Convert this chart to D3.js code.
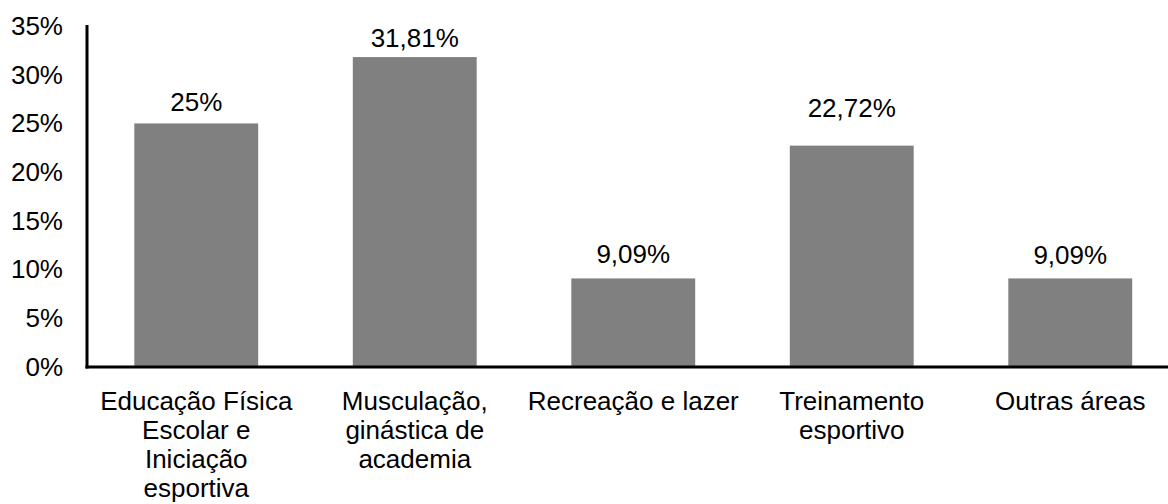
<!DOCTYPE html>
<html>
<head>
<meta charset="utf-8">
<script src="https://cdn.jsdelivr.net/npm/d3@7"></script>
<style>
  body { margin: 0; background: #fff; }
  text { font-family: "Liberation Sans", Arial, sans-serif; fill: #000; }
</style>
</head>
<body>
<svg id="chart" width="1168" height="504"></svg>
<script>
const categories = ["edu", "musc", "rec", "trein", "outras"];
const categoryLines = [
  ["Educação Física", "Escolar e", "Iniciação", "esportiva"],
  ["Musculação,", "ginástica de", "academia"],
  ["Recreação e lazer"],
  ["Treinamento", "esportivo"],
  ["Outras áreas"]
];
const values = [25, 31.81, 9.09, 22.72, 9.09];
const valueLabels = ["25%", "31,81%", "9,09%", "22,72%", "9,09%"];
const yTicks = [0, 5, 10, 15, 20, 25, 30, 35];

// gap between bar top and label baseline (labels were placed by hand in the original)
const labelGap = [12, 10, 15, 29, 14];

const svg = d3.select("#chart");

const x = d3.scaleBand()
  .domain(categories)
  .range([87, 1179.5])
  .paddingInner(0.433)
  .paddingOuter(0.2165);

const y = d3.scaleLinear()
  .domain([0, 35])
  .range([367, 26]);

// bars
svg.append("g")
  .selectAll("rect")
  .data(values)
  .join("rect")
  .attr("x", (d, i) => x(categories[i]))
  .attr("y", d => y(d))
  .attr("width", x.bandwidth())
  .attr("height", d => y(0) - y(d))
  .attr("fill", "#808080");

// value labels
svg.append("g")
  .selectAll("text")
  .data(values)
  .join("text")
  .attr("x", (d, i) => x(categories[i]) + x.bandwidth() / 2)
  .attr("y", (d, i) => y(d) - labelGap[i])
  .attr("text-anchor", "middle")
  .attr("font-size", 26)
  .text((d, i) => valueLabels[i]);

// y axis labels
const yAxis = d3.axisLeft(y)
  .tickValues(yTicks)
  .tickFormat(d => d + "%")
  .tickSize(0)
  .tickPadding(24);

const gy = svg.append("g")
  .attr("transform", "translate(87,0)")
  .call(yAxis);
gy.select(".domain").remove();
gy.selectAll("text")
  .attr("font-size", 26)
  .attr("font-family", "Liberation Sans, Arial, sans-serif")
  .attr("fill", "#000");

// axis lines
svg.append("line")
  .attr("x1", 87).attr("x2", 87)
  .attr("y1", y(35) - 1).attr("y2", y(0) + 1.5)
  .attr("stroke", "#000").attr("stroke-width", 3);

svg.append("line")
  .attr("x1", 85.5).attr("x2", 1168)
  .attr("y1", y(0)).attr("y2", y(0))
  .attr("stroke", "#000").attr("stroke-width", 3);

// category labels
const catLabel = svg.append("g")
  .selectAll("text")
  .data(categories)
  .join("text")
  .attr("text-anchor", "middle")
  .attr("font-size", 26)
  .attr("transform", d => `translate(${x(d) + x.bandwidth() / 2},${y(0) + 43})`);

catLabel.selectAll("tspan")
  .data((d, i) => categoryLines[i])
  .join("tspan")
  .attr("x", 0)
  .attr("y", (d, i) => i * 29)
  .text(d => d);
</script>
</body>
</html>
